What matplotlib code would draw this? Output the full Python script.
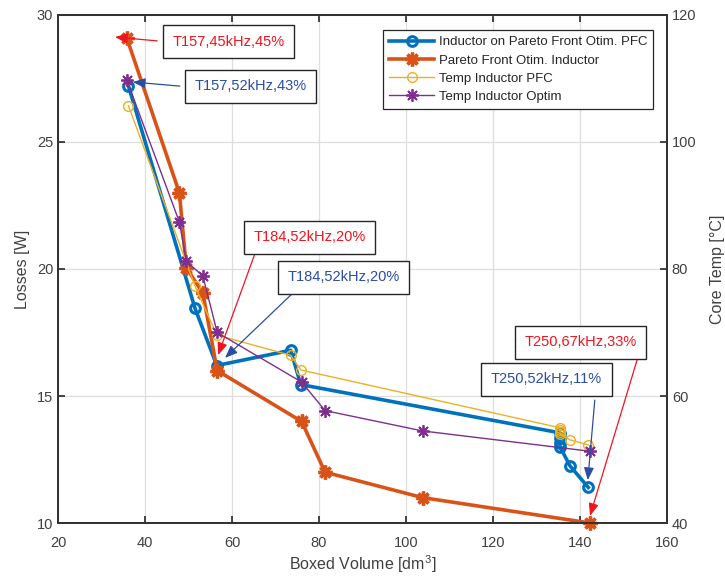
import matplotlib
matplotlib.use('Agg')
import matplotlib.pyplot as plt

plt.rcParams['font.family'] = ['Liberation Sans', 'DejaVu Sans']
plt.rcParams['mathtext.default'] = 'regular'

# data
vol_pfc = [36.2, 51.5, 56.5, 73.5, 75.8, 135.4, 135.4, 135.4, 135.4, 137.7, 141.9]
loss_pfc = [27.2, 18.45, 16.2, 16.8, 15.45, 13.55, 13.35, 13.15, 13.0, 12.25, 11.4]
temp_pfc = [105.7, 77.3, 69.6, 66.4, 64.1, 55.0, 54.6, 54.3, 54.0, 53.1, 52.3]

vol_opt = [35.8, 47.9, 49.5, 53.3, 56.6, 76.0, 81.4, 103.8, 142.3]
loss_opt = [29.1, 23.0, 20.05, 19.05, 16.0, 14.0, 12.0, 11.0, 10.0]
temp_opt = [109.8, 87.4, 81.2, 78.9, 70.0, 62.2, 57.7, 54.5, 51.3]

x_ticks = [20, 40, 60, 80, 100, 120, 140, 160]
loss_ticks = [10, 15, 20, 25, 30]
temp_ticks = [40, 60, 80, 100, 120]

series_labels = ['Inductor on Pareto Front Otim. PFC', 'Pareto Front Otim. Inductor',
                 'Temp Inductor PFC', 'Temp Inductor Optim']

# annotations: text, colour, box centre, arrow tail, arrow tip (loss axis units)
RED = '#F0141E'
NAVY = '#2B4DA3'
notes = [
    ('T157,45kHz,45%', RED, (59.3, 28.94), (42.8, 28.98), (33.1, 29.13)),
    ('T157,52kHz,43%', NAVY, (64.25, 27.2), (48.0, 27.2), (37.2, 27.36)),
    ('T184,52kHz,20%', RED, (77.9, 21.25), (65.3, 20.62), (56.8, 16.61)),
    ('T184,52kHz,20%', NAVY, (85.7, 19.67), (74.1, 19.07), (58.4, 16.5)),
    ('T250,67kHz,33%', RED, (140.2, 17.11), (153.3, 16.52), (142.3, 10.28)),
    ('T250,52kHz,11%', NAVY, (132.3, 15.65), (143.4, 14.84), (141.8, 11.69)),
]

TXT = '#262626'
ASTERISK = (8, 2, 0)  # matlab style '*': plus and cross overlaid

fig = plt.figure(figsize=(7.25, 5.76), dpi=100)
ax = fig.add_axes([0.080, 0.092, 0.840, 0.882])
ax2 = ax.twinx()

h1, = ax.plot(vol_pfc, loss_pfc, '-o', color='#0072BD', lw=2.6, ms=7,
              mfc='none', mew=2.2, zorder=3)
h2, = ax.plot(vol_opt, loss_opt, '-', marker=ASTERISK, color='#D95319', lw=2.6,
              ms=10, mew=2.4, zorder=3, clip_on=False)
h3, = ax2.plot(vol_pfc, temp_pfc, '-o', color='#EDB120', lw=1.0, ms=7,
               mfc='none', mew=1.0)
h4, = ax2.plot(vol_opt, temp_opt, '-', marker=ASTERISK, color='#7E2F8E', lw=1.0,
               ms=9, mew=1.3)

ax.set_xlim(20, 160)
ax.set_ylim(10, 30)
ax2.set_ylim(40, 120)
ax.set_xticks(x_ticks)
ax.set_yticks(loss_ticks)
ax2.set_yticks(temp_ticks)

ax.grid(True, color='#dedede', lw=0.9)
ax.set_axisbelow(True)
ax.xaxis.set_ticks_position('both')
ax.tick_params(direction='in', length=5, width=1.2, colors=TXT, labelsize=10.5,
               labelcolor='#404040')
ax.tick_params(axis='x', pad=9)
ax2.tick_params(direction='in', length=5, width=1.2, colors=TXT, labelsize=10.5,
                labelcolor='#404040')
for a in (ax, ax2):
    for s in a.spines.values():
        s.set_linewidth(1.4)
        s.set_color('#333333')

ax.set_xlabel('Boxed Volume [dm$^3$]', fontsize=11.5, color='#404040', labelpad=3)
ax.set_ylabel('Losses [W]', fontsize=11.5, color='#404040', labelpad=5)
ax2.set_ylabel('Core Temp [°C]', fontsize=11.5, color='#404040', labelpad=10)

for text, col, centre, tail, tip in notes:
    ax2.annotate('', xy=tip, xycoords=ax.transData, xytext=tail,
                 textcoords=ax.transData, zorder=6, annotation_clip=False,
                 arrowprops=dict(arrowstyle='-|>,head_length=0.75,head_width=0.3',
                                 color=col, lw=0.9, shrinkA=0, shrinkB=0))
    ax2.text(centre[0], centre[1], text, transform=ax.transData, color=col,
             ha='center', va='center', fontsize=10.5, zorder=7,
             bbox=dict(boxstyle='square,pad=0.65', fc='white', ec='#262626', lw=1.0))

leg = ax2.legend([h1, h2, h3, h4], series_labels, loc='upper right',
                 bbox_to_anchor=(0.977, 0.970), borderaxespad=0, fontsize=9.5,
                 fancybox=False, framealpha=1, edgecolor='#262626',
                 handlelength=3.4, handletextpad=0.35, labelspacing=0.45,
                 borderpad=0.45)
leg.get_frame().set_linewidth(0.9)
leg.set_zorder(8)
for t in leg.get_texts():
    t.set_color(TXT)

fig.savefig('out.png', dpi=100)
